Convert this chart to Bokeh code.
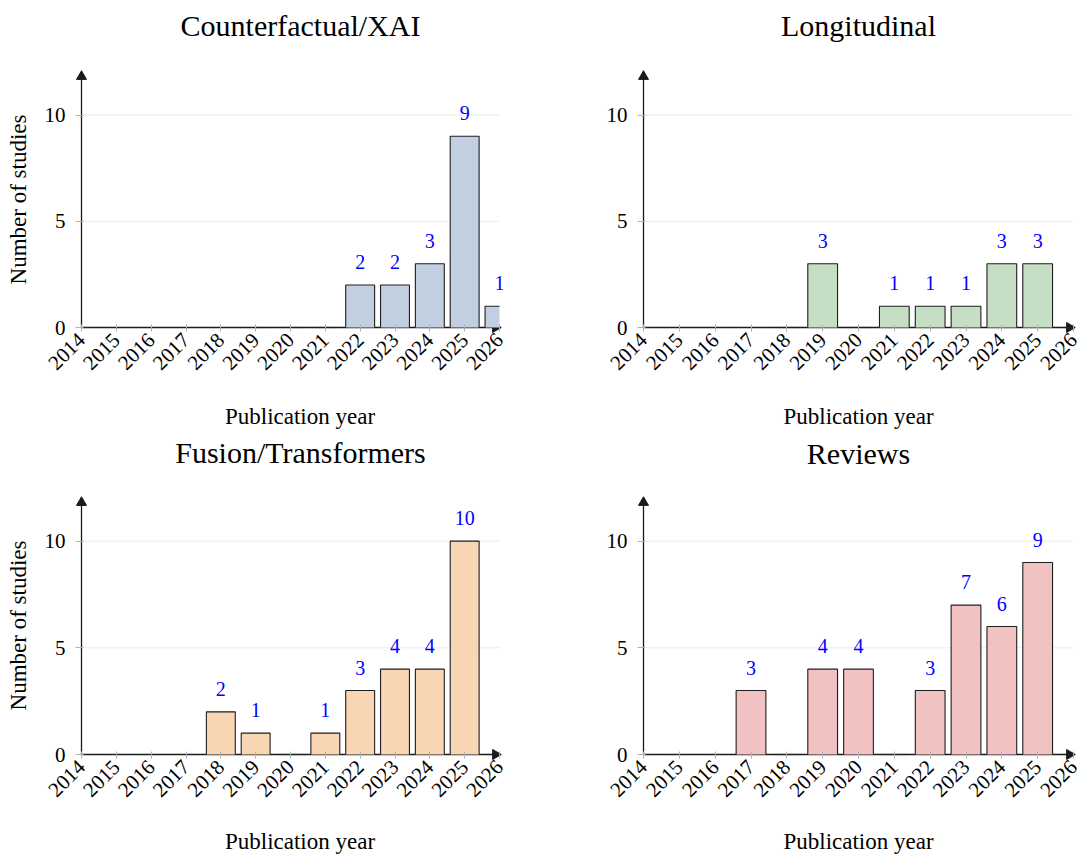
import numpy as np
from bokeh.plotting import figure
from bokeh.models import (Range1d, FixedTicker, LabelSet, Label, ColumnDataSource)
from bokeh.layouts import row, column
from bokeh.embed import file_html
from bokeh.resources import INLINE

# ---------------- data ----------------
years = [2014, 2015, 2016, 2017, 2018, 2019, 2020, 2021, 2022, 2023, 2024, 2025, 2026]
tick_years = [2014, 2015, 2016, 2017, 2018, 2019, 2020, 2021, 2022, 2023, 2024, 2025, 2026]
y_ticks = [0, 5, 10]

titles = ["Counterfactual/XAI", "Longitudinal", "Fusion/Transformers", "Reviews"]
counterfactual_counts = [0, 0, 0, 0, 0, 0, 0, 0, 2, 2, 3, 9, 1]
longitudinal_counts = [0, 0, 0, 0, 0, 3, 0, 1, 1, 1, 3, 3, 0]
fusion_counts = [0, 0, 0, 0, 2, 1, 0, 1, 3, 4, 4, 10, 0]
review_counts = [0, 0, 0, 3, 0, 4, 4, 0, 3, 7, 6, 9, 0]

x_label = "Publication year"
y_label = "Number of studies"

bar_colors = ["#c1cfe0", "#c6dfc4", "#f8d5b3", "#f2c2c2"]

FONT = "Liberation Serif"
X_MIN, X_MAX = 2014, 2026      # axis extent (arrow from 2014 to 2026)
Y_MIN, Y_MAX = 0, 12           # axis extent (arrow from 0 to 12)
BAR_W = 0.83
AXIS_COLOR = "#1a1a1a"
BAR_EDGE = "#1f1f1f"


def make_panel(title, counts, color, width, height, zx, zy, xscale, yscale,
               title_pos, xlabel_pos, ylabel_pos):
    """zx, zy: pixel position (inside the figure) of the point (2014, 0);
    xscale / yscale: pixels per data unit. The plotting frame fills the
    whole figure, the axes are pinned at 2014 and 0."""
    def dx(px):
        return X_MIN + (px - zx) / xscale

    def dy(py):
        return Y_MIN + (zy - py) / yscale

    p = figure(width=width, height=height, output_backend="svg",
               toolbar_location=None,
               x_range=Range1d(dx(0), dx(width)),
               y_range=Range1d(dy(height), dy(0)),
               min_border_left=0, min_border_right=0,
               min_border_top=0, min_border_bottom=0)
    p.outline_line_color = None
    p.background_fill_color = "white"
    p.border_fill_color = "white"
    p.xgrid.grid_line_color = None
    p.ygrid.grid_line_color = None

    # light horizontal grid lines ending at the last year
    gv = [t for t in y_ticks if t > Y_MIN]
    p.segment(x0=[X_MIN] * len(gv), x1=[X_MAX] * len(gv), y0=gv, y1=gv,
              line_color="#ebebeb", line_width=1)

    # axis lines with arrow heads
    p.segment(x0=[X_MIN, X_MIN], y0=[Y_MIN, Y_MIN], x1=[X_MAX, X_MIN],
              y1=[Y_MIN, Y_MAX], line_color=AXIS_COLOR, line_width=1.3)
    p.scatter(x=[X_MAX - 4 / xscale], y=[Y_MIN], marker="triangle", size=10,
              angle=-np.pi / 2, fill_color=AXIS_COLOR, line_color=AXIS_COLOR)
    p.scatter(x=[X_MIN], y=[Y_MAX - 4 / yscale], marker="triangle", size=10,
              angle=0, fill_color=AXIS_COLOR, line_color=AXIS_COLOR)

    # bars (clipped to the axis extent): fill, then outline without the
    # clipped side
    xs = np.array(years, dtype=float)
    lefts = np.maximum(xs - BAR_W / 2, X_MIN)
    rights = np.minimum(xs + BAR_W / 2, X_MAX)
    src = ColumnDataSource(dict(left=lefts, right=rights, top=counts))
    p.quad(left="left", right="right", top="top", bottom=0, source=src,
           fill_color=color, line_color=None)
    oxs, oys = [], []
    for x, l, r, c in zip(xs, lefts, rights, counts):
        px, py = [], []
        if l > x - BAR_W / 2:
            px += [l]
            py += [c]
        else:
            px += [l, l]
            py += [0, c]
        if r < x + BAR_W / 2:
            px += [r]
            py += [c]
        else:
            px += [r, r]
            py += [c, 0]
        oxs.append(px)
        oys.append(py)
    p.multi_line(xs=oxs, ys=oys, line_color=BAR_EDGE, line_width=1.1)

    # value labels for non-zero bars
    lx = [x for x, c in zip(years, counts) if c > 0]
    ly = [c for c in counts if c > 0]
    lsrc = ColumnDataSource(dict(x=lx, y=ly, t=[str(c) for c in ly]))
    p.add_layout(LabelSet(x="x", y="y", text="t", source=lsrc,
                          text_align="center", text_baseline="bottom",
                          y_offset=16, text_color="#0000ff",
                          text_font=FONT, text_font_size="20px"))

    # axes, pinned at the origin
    p.xaxis.ticker = FixedTicker(ticks=tick_years)
    p.yaxis.ticker = FixedTicker(ticks=y_ticks)
    p.xaxis.fixed_location = Y_MIN
    p.yaxis.fixed_location = X_MIN
    for ax in (p.xaxis[0], p.yaxis[0]):
        ax.axis_line_color = None
        ax.major_tick_line_color = "#b0b0b0"
        ax.minor_tick_line_color = None
        ax.major_label_text_font = FONT
        ax.major_label_text_font_size = "21px"
        ax.major_label_text_color = "black"
    p.xaxis.major_tick_in = 3
    p.xaxis.major_tick_out = 4
    p.xaxis.major_label_orientation = np.pi / 4
    p.xaxis.major_label_standoff = 5
    p.yaxis.major_tick_in = 2
    p.yaxis.major_tick_out = 6
    p.yaxis.major_label_standoff = 10

    # axis titles
    p.add_layout(Label(x=dx(xlabel_pos[0]), y=dy(xlabel_pos[1]), text=x_label,
                       text_align="center", text_baseline="middle",
                       text_font=FONT, text_font_size="23px",
                       text_color="black"))
    if ylabel_pos is not None:
        p.add_layout(Label(x=dx(ylabel_pos[0]), y=dy(ylabel_pos[1]),
                           text=y_label, angle=np.pi / 2,
                           text_align="center", text_baseline="middle",
                           text_font=FONT, text_font_size="23px",
                           text_color="black"))

    # panel title
    p.add_layout(Label(x=dx(title_pos[0]), y=dy(title_pos[1]), text=title,
                       text_align="center", text_baseline="middle",
                       text_font=FONT, text_font_size="30px",
                       text_color="black"))
    return p


# pixel scales
lx_scale = 418 / 12     # left column, px per year
rx_scale = 430 / 12     # right column, px per year
ty_scale = 255 / 12     # top row, px per study
by_scale = 256 / 12     # bottom row, px per study

p1 = make_panel(titles[0], counterfactual_counts, bar_colors[0], 548, 436,
                81, 327, lx_scale, ty_scale, (300, 25), (299.5, 416),
                (17.5, 199))
p2 = make_panel(titles[1], longitudinal_counts, bar_colors[1], 535, 436,
                95, 327, rx_scale, ty_scale, (310, 25), (310, 416), None)
p3 = make_panel(titles[2], fusion_counts, bar_colors[2], 548, 426,
                81, 318, lx_scale, by_scale, (300, 16), (299.5, 405),
                (17.5, 189))
p4 = make_panel(titles[3], review_counts, bar_colors[3], 535, 426,
                95, 318, rx_scale, by_scale, (310, 17.2), (310, 405), None)

layout = column(row(p1, p2), row(p3, p4))

open("out.html", "w").write(file_html(layout, INLINE))
